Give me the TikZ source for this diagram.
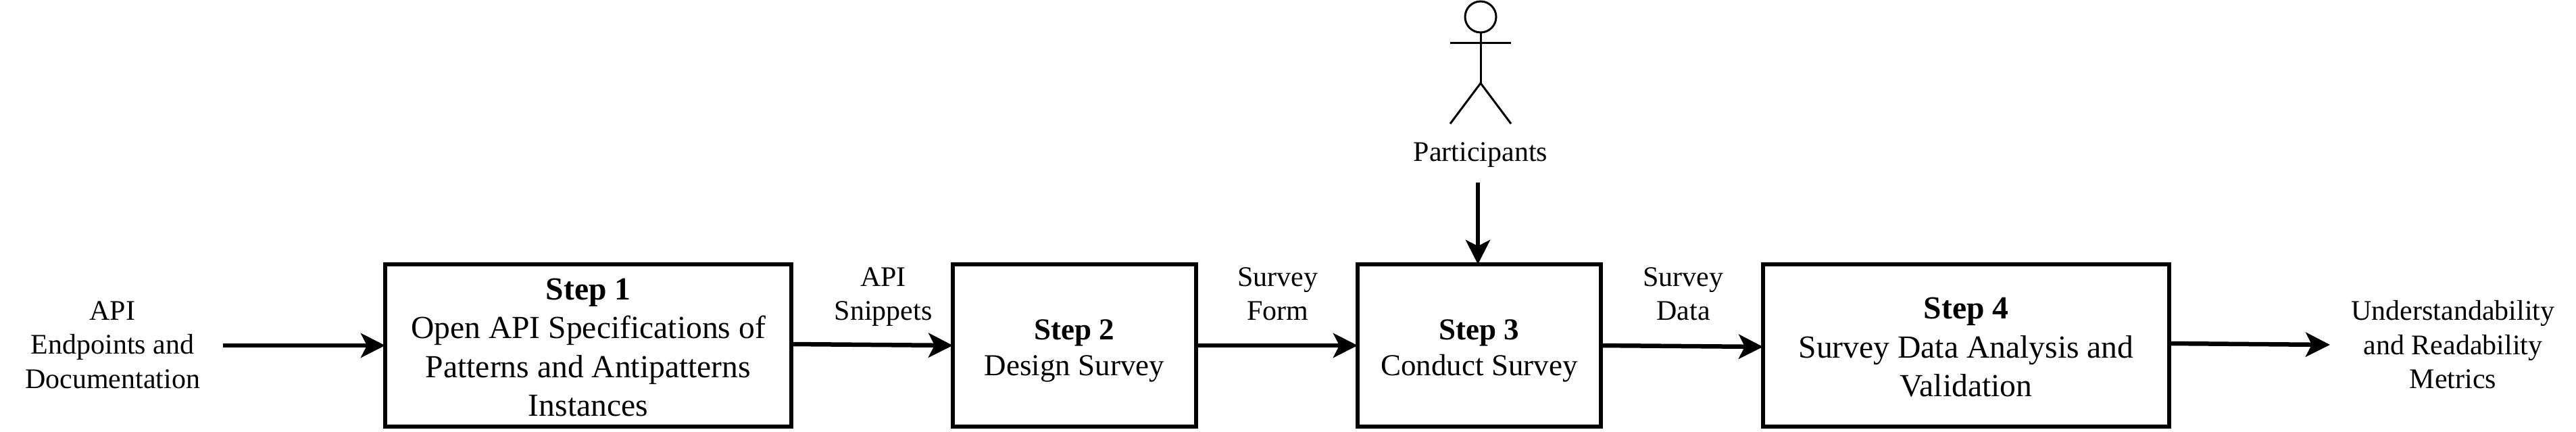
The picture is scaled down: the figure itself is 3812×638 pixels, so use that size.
\documentclass[tikz,border=0pt]{standalone}
\usepackage{fontspec}
\setmainfont{Liberation Serif}
\usetikzlibrary{arrows.meta}
\tikzset{
  x=1pt,y=-1pt,
  boxnode/.style={draw=black,line width=5.5pt,fill=white,inner sep=0pt,outer sep=0pt,align=center,minimum height=240pt},
  bigtext/.style={font=\fontsize{47.6}{57.5}\selectfont},
  smalltext/.style={font=\fontsize{45}{53}\selectfont},
  lbl/.style={inner sep=0pt,outer sep=0pt,align=center,font=\fontsize{42}{50.5}\selectfont},
  flow/.style={line width=6.5pt,-{Stealth[length=36pt,width=36pt,inset=9pt]}},
  actorline/.style={line width=3pt}
}
\begin{document}
\begin{tikzpicture}
\useasboundingbox (0,0) rectangle (3812,638);
\node[boxnode,bigtext,minimum width=601pt] (s1) at (870.5,511) {\rule{0pt}{37pt}\textbf{Step 1}\\Open API Specifications of\\Patterns and Antipatterns\\Instances};
\node[boxnode,smalltext,minimum width=360pt] (s2) at (1590,511) {\rule{0pt}{46pt}\textbf{Step 2}\\Design Survey};
\node[boxnode,smalltext,minimum width=360pt] (s3) at (2189,511) {\rule{0pt}{46pt}\textbf{Step 3}\\Conduct Survey};
\node[boxnode,bigtext,minimum width=601pt] (s4) at (2909.5,511) {\rule{0pt}{37pt}\textbf{Step 4}\\Survey Data Analysis and\\Validation};
\node[lbl] (in) at (166.5,510) {API\\Endpoints and\\Documentation};
\node[lbl] (out) at (3630,510) {Understandability\\and Readability\\Metrics};
\node[lbl] (l1) at (1307,439) {API\\Snippets};
\node[lbl] (l2) at (1891,435) {Survey\\Form};
\node[lbl] (l3) at (2491,435) {Survey\\Data};
\node[lbl] (part) at (2191,229) {Participants};
\coordinate (inend) at (330,511);
\coordinate (outend) at (3448,510);
\coordinate (partend) at (2187,270);
\draw[flow] (inend) -- (s1.west);
\draw[flow] ([yshift=2pt]s1.east) -- (s2.west);
\draw[flow] (s2.east) -- (s3.west);
\draw[flow] (s3.east) -- ([yshift=-2pt]s4.west);
\draw[flow] ([yshift=3pt]s4.east) -- (outend);
\draw[flow] (partend) -- (partend |- s3.north);
\node[draw=black,actorline,circle,minimum size=46pt,inner sep=0pt,outer sep=0pt] (head) at (2191,25) {};
\coordinate (hip) at (2191,123);
\coordinate (arml) at (2146,63);
\coordinate (armr) at (2236,63);
\coordinate (legl) at (2146,183);
\coordinate (legr) at (2236,183);
\draw[actorline] (head.south) -- (hip);
\draw[actorline] (arml) -- (armr);
\draw[actorline] (legl) -- (hip) -- (legr);
\end{tikzpicture}
\end{document}
